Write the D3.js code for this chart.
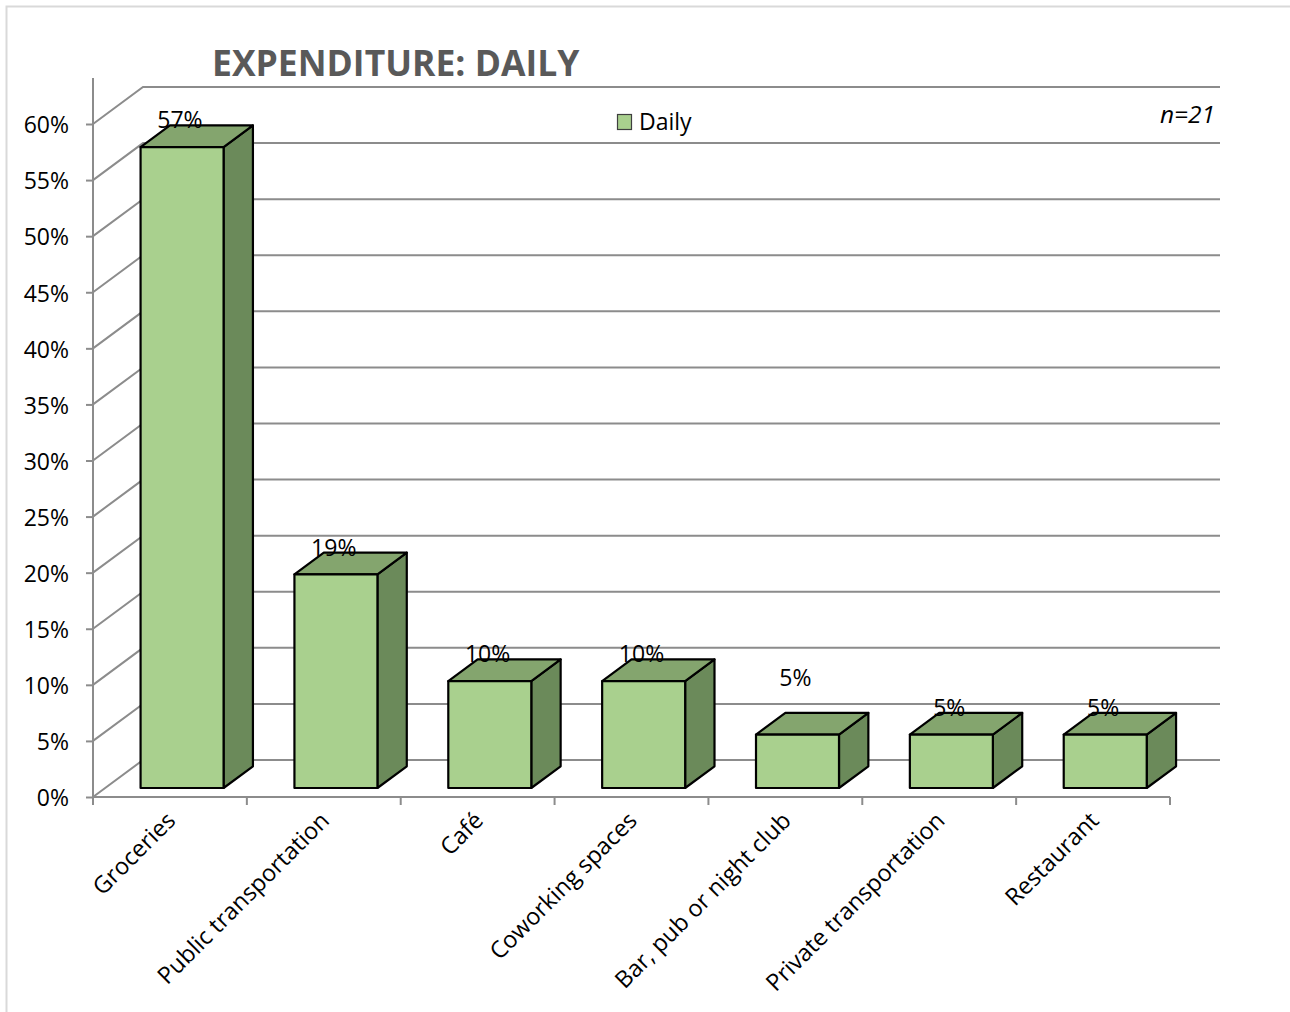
<!DOCTYPE html>
<html>
<head>
<meta charset="utf-8">
<script src="https://cdn.jsdelivr.net/npm/d3@7"></script>
<style>
  html, body { margin: 0; padding: 0; background: #fff; }
  svg { display: block; }
  text { font-family: "Open Sans", "Noto Sans", sans-serif; }
</style>
</head>
<body>
<svg id="chart" width="1290" height="1012"></svg>
<script>
// Share of respondents (n=21) reporting each daily expenditure
const categories = ["Groceries", "Public transportation", "Café", "Coworking spaces",
                    "Bar, pub or night club", "Private transportation", "Restaurant"];
const dailyShare = [12 / 21, 4 / 21, 2 / 21, 2 / 21, 1 / 21, 1 / 21, 1 / 21];
const yTicks = [0, 0.05, 0.10, 0.15, 0.20, 0.25, 0.30, 0.35, 0.40, 0.45, 0.50, 0.55, 0.60];
const seriesName = "Daily";
const titleText = "EXPENDITURE: DAILY";
const sampleNote = "n=21";

const svg = d3.select("#chart");

// Layout of the oblique 3D frame
const x0 = 93, x1 = 1170;          // front floor edge
const yBase = 797, yTop = 124;     // 0% and 60% on the front plane
const depthX = 50, depthY = -37;   // offset from front plane to back wall
const barZ0 = 0.243, barZ1 = 0.83; // bar depth span (0 = front, 1 = back)
const barHalf = 41.5;

const x = d3.scaleBand().domain(categories).range([x0, x1]);
const y = d3.scaleLinear().domain([0, 0.6]).range([yBase, yTop]);

// project a point (screen x on front plane, value, depth) to screen
const P = (px, v, z) => [px + z * depthX, y(v) + z * depthY];

const gridColor = "#8c8c8c";
const fontSize = 23;

// outer chart border
svg.append("rect")
  .attr("x", 6.5).attr("y", 6.5).attr("width", 1300).attr("height", 1020)
  .attr("fill", "none").attr("stroke", "#d9d9d9").attr("stroke-width", 2);

// back wall gridlines and side wall diagonals
const grid = svg.append("g").attr("stroke", gridColor).attr("stroke-width", 2).attr("fill", "none");
yTicks.forEach(v => {
  const a = P(x0, v, 0), b = P(x0, v, 1), c = P(x1, v, 1);
  grid.append("path").attr("d", `M${a[0]},${a[1]}L${b[0]},${b[1]}L${c[0]},${c[1]}`);
});

// value axis (front left edge) with outward ticks
const yAxis = d3.axisLeft(y).tickValues(yTicks).tickFormat(d3.format(".0%"))
  .tickSize(7).tickSizeOuter(0).tickPadding(17);
const gy = svg.append("g").attr("transform", `translate(${x0},0)`).call(yAxis);
gy.select(".domain").remove();
gy.selectAll(".tick line").attr("stroke", gridColor).attr("stroke-width", 2);
gy.selectAll(".tick text").attr("font-size", fontSize).attr("fill", "#000")
  .attr("font-family", "'Open Sans', sans-serif").attr("dy", "0.38em");
svg.append("line").attr("x1", x0).attr("x2", x0).attr("y1", 78).attr("y2", yBase)
  .attr("stroke", gridColor).attr("stroke-width", 2);

// category axis along the front floor edge
const tickXs = categories.map(c => x(c)).concat([x1]);
const gx = svg.append("g").attr("stroke", gridColor).attr("stroke-width", 2);
gx.append("line").attr("x1", x0).attr("x2", x1).attr("y1", yBase).attr("y2", yBase);
gx.selectAll("line.tick").data(tickXs).join("line").attr("class", "tick")
  .attr("x1", d => d).attr("x2", d => d).attr("y1", yBase).attr("y2", yBase + 8);

svg.append("g").selectAll("text").data(categories).join("text")
  .attr("transform", d => `translate(${x(d) + x.bandwidth() / 2 + 7},${yBase + 25}) rotate(-45)`)
  .attr("text-anchor", "end")
  .attr("font-size", 23.5)
  .attr("fill", "#000")
  .text(d => d);

// 3D bars
const frontFill = "#a9d08e", topFill = "#84a56e", sideFill = "#6b8a5a";
const bars = svg.append("g").attr("stroke", "#000").attr("stroke-width", 2.2).attr("stroke-linejoin", "round");
categories.forEach((c, i) => {
  const v = dailyShare[i];
  const cx = x(c) + x.bandwidth() / 2;
  const l = cx - barHalf, r = cx + barHalf;
  const fbl = P(l, 0, barZ0), fbr = P(r, 0, barZ0), ftl = P(l, v, barZ0), ftr = P(r, v, barZ0);
  const bbr = P(r, 0, barZ1), btl = P(l, v, barZ1), btr = P(r, v, barZ1);
  const poly = pts => "M" + pts.map(p => p.join(",")).join("L") + "Z";
  bars.append("path").attr("d", poly([fbr, bbr, btr, ftr])).attr("fill", sideFill);
  bars.append("path").attr("d", poly([ftl, ftr, btr, btl])).attr("fill", topFill);
  bars.append("path").attr("d", poly([fbl, fbr, ftr, ftl])).attr("fill", frontFill);
});

// value labels above each bar
const labelLift = { 4: 30 };
svg.append("g").selectAll("text").data(categories).join("text")
  .attr("x", c => x(c) + x.bandwidth() / 2 + 10)
  .attr("y", (c, i) => P(0, dailyShare[i], barZ1)[1] + 3 - (labelLift[i] || 0))
  .attr("text-anchor", "middle")
  .attr("font-size", fontSize)
  .attr("fill", "#000")
  .text((c, i) => d3.format(".0%")(dailyShare[i]));

// title
svg.append("text").attr("x", 212).attr("y", 76)
  .attr("font-size", 35.5).attr("font-weight", 700).attr("fill", "#595959")
  .text(titleText);

// legend
svg.append("rect").attr("x", 617.5).attr("y", 114.5).attr("width", 14).attr("height", 15)
  .attr("fill", frontFill).attr("stroke", "#3f3f3f").attr("stroke-width", 1.2);
svg.append("text").attr("x", 639).attr("y", 130)
  .attr("font-size", fontSize).attr("fill", "#000").text(seriesName);

// sample size note
svg.append("text").attr("x", 1215).attr("y", 123).attr("text-anchor", "end")
  .attr("font-size", 24.5).attr("font-style", "italic").attr("fill", "#000").text(sampleNote);
</script>
</body>
</html>
